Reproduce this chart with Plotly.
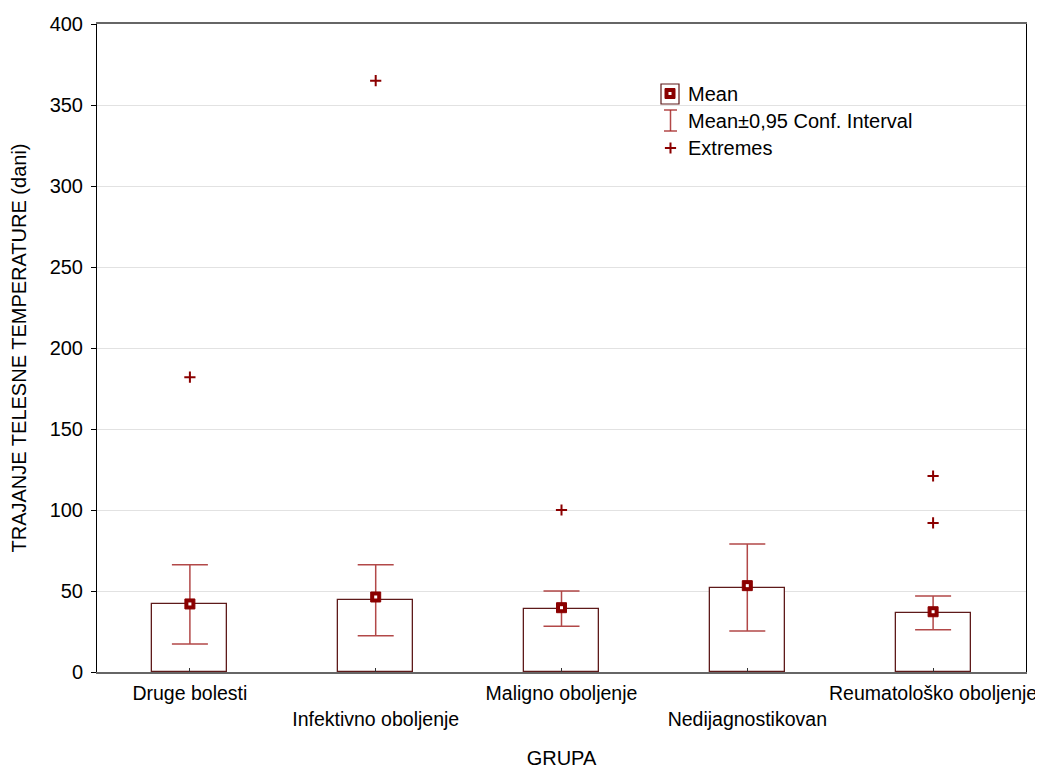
import plotly.graph_objects as go

categories = ["Druge bolesti", "Infektivno oboljenje", "Maligno oboljenje",
              "Nedijagnostikovan", "Reumatološko oboljenje"]
bar_values = [42.0, 44.4, 38.9, 51.9, 36.2]
mean_values = [42.0, 46.3, 39.7, 53.3, 37.2]
ci_low = [17.3, 22.4, 28.2, 25.3, 26.1]
ci_high = [66.2, 66.2, 50.0, 79.0, 46.9]
extreme_cats = ["Druge bolesti", "Infektivno oboljenje", "Maligno oboljenje",
                "Reumatološko oboljenje", "Reumatološko oboljenje"]
extreme_values = [182, 365, 100, 121, 92]
y_ticks = [0, 50, 100, 150, 200, 250, 300, 350, 400]

xi = {c: i for i, c in enumerate(categories)}
x_idx = list(range(len(categories)))
tick_text = [c if i % 2 == 0 else "<br>" + c for i, c in enumerate(categories)]

FONT = "Liberation Sans, Arial, sans-serif"
FS = 20
DARK = "#8b0000"
BAROUT = "#5e1a1a"
WHISK = "rgba(165,40,40,0.85)"

fig = go.Figure()
fig.add_trace(go.Bar(x=x_idx, y=bar_values, width=0.404,
                     marker=dict(color="white", line=dict(color=BAROUT, width=1.3)),
                     showlegend=False))
fig.add_trace(go.Scatter(
    x=x_idx, y=mean_values, mode="markers",
    marker=dict(symbol="square", size=10, color=DARK, line=dict(color=DARK, width=1)),
    error_y=dict(type="data", symmetric=False,
                 array=[h - m for h, m in zip(ci_high, mean_values)],
                 arrayminus=[m - l for m, l in zip(mean_values, ci_low)],
                 color=WHISK, thickness=1.5, width=18),
    showlegend=False))
fig.add_trace(go.Scatter(x=x_idx, y=mean_values, mode="markers",
                         marker=dict(symbol="square", size=3, color="white"),
                         showlegend=False))
fig.add_trace(go.Scatter(x=[xi[c] for c in extreme_cats], y=extreme_values, mode="markers",
                         marker=dict(symbol="cross-thin", size=8,
                                     line=dict(color=DARK, width=2)),
                         showlegend=False))

# page has an 8px body margin; plot area wanted at page px 97..1026 x 24..672
W, H = 1043, 769
OFF = 8
PL, PR, PT, PB = 97, 1026, 24, 672
L, T = PL - OFF, PT - OFF
R = W - (PR - OFF)
B = H - (PB - OFF)
pw, ph = PR - PL, PB - PT
def px(x):
    return (x - PL) / pw
def py(y):
    return 1 - (y - PT) / ph

shapes = []
shapes.append(dict(type="rect", xref="paper", yref="paper", x0=px(661), x1=px(679),
                   y0=py(104), y1=py(84), line=dict(color=BAROUT, width=1.2), fillcolor="white"))
shapes.append(dict(type="rect", xref="paper", yref="paper", x0=px(665), x1=px(675),
                   y0=py(98.5), y1=py(88.5), line=dict(color=DARK, width=1), fillcolor=DARK))
shapes.append(dict(type="rect", xref="paper", yref="paper", x0=px(668.5), x1=px(671.5),
                   y0=py(95), y1=py(92), line=dict(width=0), fillcolor="white"))
shapes.append(dict(type="line", xref="paper", yref="paper", x0=px(670.5), x1=px(670.5),
                   y0=py(110), y1=py(131), line=dict(color=WHISK, width=1.5)))
for yy in (110, 131):
    shapes.append(dict(type="line", xref="paper", yref="paper", x0=px(664), x1=px(677),
                       y0=py(yy), y1=py(yy), line=dict(color=WHISK, width=1.5)))
fig.update_layout(shapes=shapes)
fig.add_trace(go.Scatter(x=[px(670.5)], y=[py(148)], xaxis="x2", yaxis="y2", mode="markers",
                         marker=dict(symbol="cross-thin", size=8, line=dict(color=DARK, width=2)),
                         showlegend=False, hoverinfo="skip"))
for label, yy in [("Mean", 94), ("Mean±0,95 Conf. Interval", 121), ("Extremes", 148)]:
    fig.add_annotation(xref="paper", yref="paper", x=px(686), y=py(yy), text=label,
                       showarrow=False, xanchor="left", yanchor="middle",
                       font=dict(family=FONT, size=FS, color="black"))

fig.update_layout(
    width=W, height=H,
    margin=dict(l=L, r=R, t=T, b=B, autoexpand=False),
    paper_bgcolor="white", plot_bgcolor="white",
    font=dict(family=FONT, size=FS, color="black"),
    showlegend=False,
    bargap=0,
    xaxis=dict(range=[-0.5, 4.5], tickmode="array", tickvals=x_idx, ticktext=tick_text,
               tickangle=0, ticklabelstandoff=3,
               ticks="inside", ticklen=4, tickcolor="#333", showgrid=False,
               showline=True, linecolor="#666", linewidth=2, mirror=True,
               automargin=False,
               title=dict(text="GRUPA", standoff=22, font=dict(size=FS)),
               tickfont=dict(size=19.5), zeroline=False),
    yaxis=dict(range=[0, 400], tickmode="array", tickvals=y_ticks,
               ticks="outside", ticklen=5, tickcolor="black",
               showgrid=True, gridcolor="#e2e2e2", gridwidth=1,
               showline=True, linecolor="black", linewidth=1, mirror=True,
               zeroline=False, ticklabelstandoff=4, automargin=False,
               title=dict(text="TRAJANJE TELESNE TEMPERATURE (dani)", standoff=22,
                          font=dict(size=FS)),
               tickfont=dict(size=FS)),
    xaxis2=dict(range=[0, 1], overlaying="x", visible=False),
    yaxis2=dict(range=[0, 1], overlaying="y", visible=False),
)

fig.write_html("out.html")
